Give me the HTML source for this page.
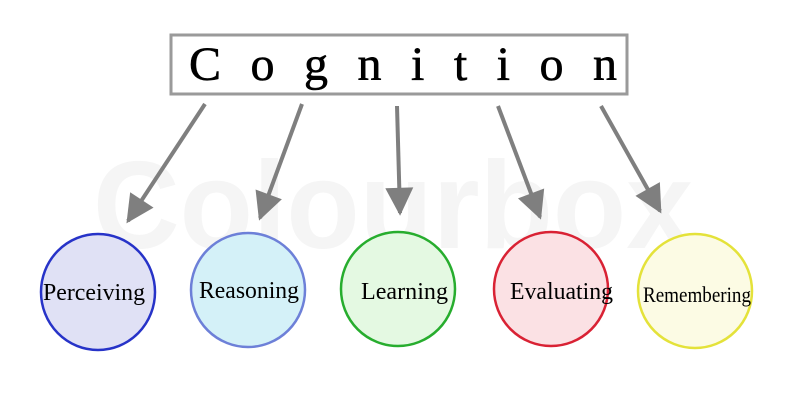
<!DOCTYPE html>
<html><head><meta charset="utf-8"><style>
html,body{margin:0;padding:0;background:#fff;width:800px;height:403px;overflow:hidden}
</style></head><body>
<svg width="800" height="403" viewBox="0 0 800 403" xmlns="http://www.w3.org/2000/svg">
<text x="393" y="248" text-anchor="middle" font-family="Liberation Sans, sans-serif" font-weight="bold" font-size="124" fill="#f5f5f5" textLength="600" lengthAdjust="spacingAndGlyphs">Colourbox</text>
<rect x="171" y="35" width="456" height="59" fill="#fff" stroke="#9a9a9a" stroke-width="3"/>
<text x="189" y="80" font-family="Liberation Serif, serif" font-size="48" fill="#000" stroke="#000" stroke-width="0.6" textLength="428" lengthAdjust="spacing">Cognition</text>
<defs><marker id="a" viewBox="0 0 10 10" refX="9" refY="5" markerWidth="10" markerHeight="7" markerUnits="strokeWidth" orient="auto"><path d="M0,0 L10,5 L0,10 z" fill="#7f7f7f"/></marker></defs>
<g stroke="#7f7f7f" stroke-width="4" marker-end="url(#a)">
<line x1="205" y1="104" x2="128" y2="221"/>
<line x1="302" y1="104" x2="260" y2="218"/>
<line x1="397" y1="106" x2="400" y2="213"/>
<line x1="498" y1="106" x2="540" y2="217"/>
<line x1="601" y1="106" x2="660" y2="211"/>
</g>
<g stroke-width="2.5" font-family="Liberation Serif, serif" font-size="24">
<ellipse cx="98" cy="292" rx="57" ry="58" fill="#e0e1f5" stroke="#2733c8"/>
<ellipse cx="248" cy="290" rx="57" ry="57" fill="#d4f1f8" stroke="#6d80d8"/>
<ellipse cx="398" cy="289" rx="57" ry="57" fill="#e4f9e2" stroke="#27ad2e"/>
<ellipse cx="551" cy="289" rx="57" ry="57" fill="#fbe1e4" stroke="#d92234"/>
<ellipse cx="695" cy="291" rx="57" ry="57" fill="#fcfbe4" stroke="#e4e23a"/>
<text x="43" y="300" fill="#000" stroke="none" textLength="102" lengthAdjust="spacingAndGlyphs">Perceiving</text>
<text x="199" y="298" fill="#000" stroke="none" textLength="100" lengthAdjust="spacingAndGlyphs">Reasoning</text>
<text x="361" y="299" fill="#000" stroke="none" textLength="87" lengthAdjust="spacingAndGlyphs">Learning</text>
<text x="510" y="299" fill="#000" stroke="none" textLength="103" lengthAdjust="spacingAndGlyphs">Evaluating</text>
<text x="643" y="302" fill="#000" stroke="none" font-size="22" textLength="108" lengthAdjust="spacingAndGlyphs">Remembering</text>
</g>
</svg>
</body></html>
